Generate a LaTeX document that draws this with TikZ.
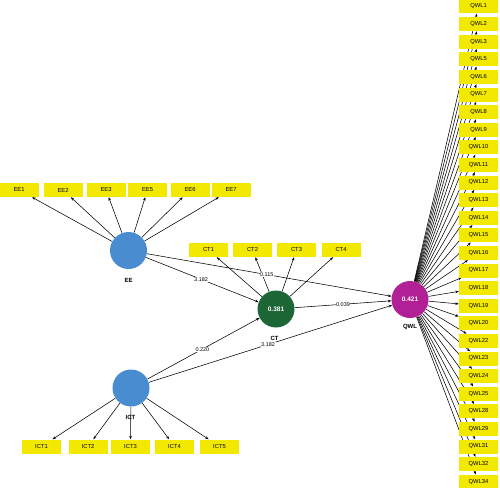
\documentclass[tikz,border=0pt]{standalone}
\usepackage{fontspec}
\setmainfont{Liberation Sans}
\usetikzlibrary{arrows.meta}
\definecolor{lvblue}{RGB}{74,140,208}
\definecolor{lvgreen}{RGB}{29,102,54}
\definecolor{lvmag}{RGB}{178,32,150}
\definecolor{indyellow}{RGB}{242,232,0}
\pgfdeclarelayer{background}
\pgfsetlayers{background,main}
\begin{document}
\begin{tikzpicture}[x=1pt,y=-1pt,
  ind/.style={fill=indyellow, draw=none, minimum width=39pt, minimum height=14pt, inner sep=0pt, font=\fontsize{5.8}{6}\selectfont},
  lv/.style={circle, minimum size=37pt, inner sep=0pt, font=\fontsize{6.5}{7}\selectfont\bfseries, text=white},
  lvlab/.style={font=\fontsize{6}{6}\selectfont\bfseries},
  arr/.style={-{Stealth[length=3.5pt,width=2.6pt]}, line width=0.55pt},
  coef/.style={fill=white, inner sep=0.6pt, font=\fontsize{5.5}{6}\selectfont}]
\useasboundingbox (0,0) rectangle (500,487);

% latent variables
\node[lv, fill=lvblue] (EE) at (128.5,250.5) {};
\node[lv, fill=lvblue] (ICT) at (131,388) {};
\node[lv, fill=lvgreen] (CT) at (276,309) {0.381};
\node[lv, fill=lvmag] (QWL) at (410,299.5) {0.421};
\node[lvlab] (EElab) at (128.5,280.5) {EE};
\node[lvlab] (ICTlab) at (130.5,417.5) {ICT};
\node[lvlab] (CTlab) at (274.5,338) {CT};
\node[lvlab] (QWLlab) at (410,326.5) {QWL};

% EE indicators
\foreach \n/\x in {1/19,2/63,3/106,5/147.5,6/190,7/231}{
  \node[ind] (EE\n) at (\x,190) {EE\n};
  \begin{pgfonlayer}{background}\draw[arr] (EE) -- (EE\n);\end{pgfonlayer}
}
% CT indicators
\foreach \n/\x in {1/208.5,2/252.5,3/296.5,4/341}{
  \node[ind] (CT\n) at (\x,250) {CT\n};
  \begin{pgfonlayer}{background}\draw[arr] (CT) -- (CT\n);\end{pgfonlayer}
}
% ICT indicators
\foreach \n/\x in {1/41.5,2/88,3/130.5,4/174.5,5/219.5}{
  \node[ind] (ICT\n) at (\x,446.5) {ICT\n};
  \begin{pgfonlayer}{background}\draw[arr] (ICT) -- (ICT\n);\end{pgfonlayer}
}
% QWL indicators
\foreach \n [count=\i from 0] in {1,2,3,5,6,7,8,9,10,11,12,13,14,15,16,17,18,19,20,22,23,24,25,28,29,31,32,34}{
  \node[ind] (QWL\n) at (478.5,{6.5+\i*17.6}) {QWL\n};
  \begin{pgfonlayer}{background}\draw[arr] (QWL) -- (QWL\n);\end{pgfonlayer}
}

% structural paths
\begin{pgfonlayer}{background}
\draw[arr] (EE) -- node[coef, pos=0.49] {3.182} (CT);
\draw[arr] (EE) -- node[coef, pos=0.49] {0.115} (QWL);
\draw[arr] (ICT) -- node[coef, pos=0.49] {0.220} (CT);
\draw[arr] (ICT) -- node[coef, pos=0.49] {3.182} (QWL);
\draw[arr] (CT) -- node[coef, pos=0.5] {0.039} (QWL);
\end{pgfonlayer}
\end{tikzpicture}
\end{document}
